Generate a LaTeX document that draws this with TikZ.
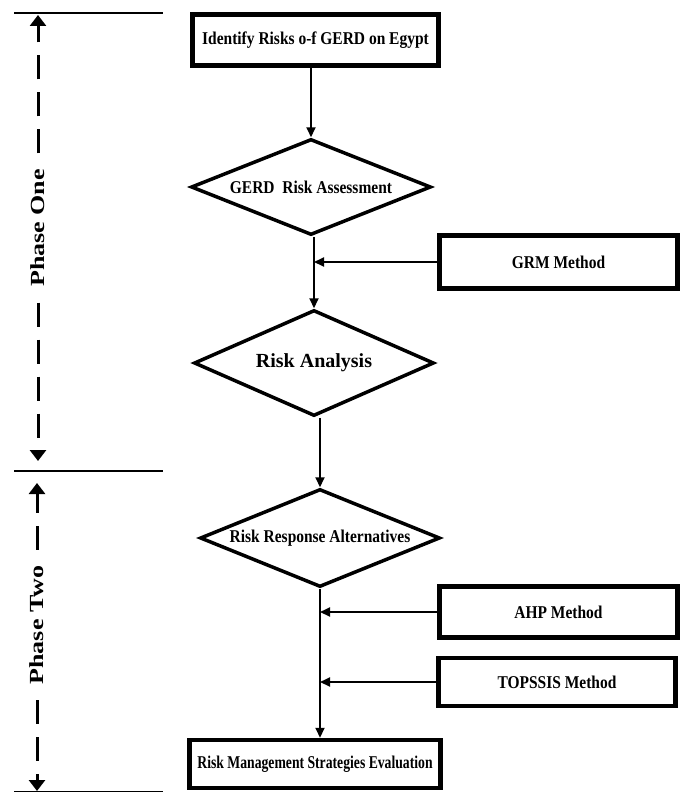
\documentclass[tikz,border=0pt]{standalone}
\usepackage{fontspec}
\setmainfont{Liberation Serif}[FakeStretch=0.86]
\newfontfamily\phasefont{Liberation Serif}
\newfontfamily\narrowfont{Liberation Serif}[FakeStretch=0.76]
\usetikzlibrary{shapes.geometric,arrows.meta}
\begin{document}
\begin{tikzpicture}[x=1pt,y=-1pt,
	boxnode/.style={draw,line width=4.5pt,inner sep=2pt,font=\fontsize{18}{21}\selectfont\bfseries},
	decision/.style={draw,diamond,aspect=2.4,line width=3.5pt,inner sep=0pt,font=\fontsize{18}{21}\selectfont\bfseries},
	flowarrow/.style={line width=2pt,-{Triangle[width=9pt,length=10pt]}},
	phasearrow/.style={line width=3pt,dash pattern=on 24pt off 13pt,-{Triangle[width=16pt,length=11pt]}},
	phaselabel/.style={rotate=90,xscale=1.3,inner xsep=12pt,inner ysep=2pt,font=\phasefont\fontsize{20}{24}\selectfont\bfseries},
	phaserule/.style={line width=2.5pt}]
	\useasboundingbox (0,0) rectangle (685,792);
	
	\draw[phaserule] (14,13) -- (163,13);
	\draw[phaserule] (14,471) -- (163,471);
	\draw[phaserule] (14,792) -- (163,792);
	
	\node[phaselabel] (p1) at (38,228) {Phase One};
	\coordinate (p1top) at (38,15);
	\coordinate (p1bot) at (38,461);
	\draw[phasearrow] (p1) -- (p1top);
	\draw[phasearrow] (p1) -- (p1bot);
	
	\node[phaselabel] (p2) at (37,625) {Phase Two};
	\coordinate (p2top) at (37,483);
	\coordinate (p2bot) at (37,791);
	\draw[phasearrow] (p2) -- (p2top);
	\draw[phasearrow] (p2) -- (p2bot);
	
	\node[boxnode,minimum width=246pt,minimum height=51pt] (risks) at (315.5,40) {Identify Risks o-f GERD on Egypt};
	\node[decision,minimum width=240pt,minimum height=96pt] (assess) at (311,187) {GERD\ \ Risk Assessment};
	\node[boxnode,minimum width=238pt,minimum height=53pt] (grm) at (558.5,262) {GRM Method};
	\node[decision,minimum width=240pt,minimum height=106pt,font=\phasefont\fontsize{20}{24}\selectfont\bfseries] (analysis) at (314,363) {Risk Analysis};
	\node[decision,minimum width=240pt,minimum height=98pt] (response) at (320,538) {Risk Response Alternatives};
	\node[boxnode,minimum width=238pt,minimum height=51pt] (ahp) at (558.5,612) {AHP Method};
	\node[boxnode,minimum width=237pt,minimum height=48pt] (topsis) at (557,682) {TOPSSIS Method};
	\node[boxnode,minimum width=251pt,minimum height=48pt,font=\narrowfont\fontsize{18}{21}\selectfont\bfseries] (evaluation) at (315,764) {Risk Management Strategies Evaluation};
	
	\draw[flowarrow] (risks.south -| assess.north) -- (assess.north);
	\draw[flowarrow] (analysis.north |- assess.south) -- (analysis.north);
	\draw[flowarrow] (grm.west) -- (grm.west -| analysis.north);
	\draw[flowarrow] (response.north |- analysis.south) -- (response.north);
	\draw[flowarrow] (response.south) -- (response.south |- evaluation.north);
	\draw[flowarrow] (ahp.west) -- (ahp.west -| response.south);
	\draw[flowarrow] (topsis.west) -- (topsis.west -| response.south);
\end{tikzpicture}
\end{document}
